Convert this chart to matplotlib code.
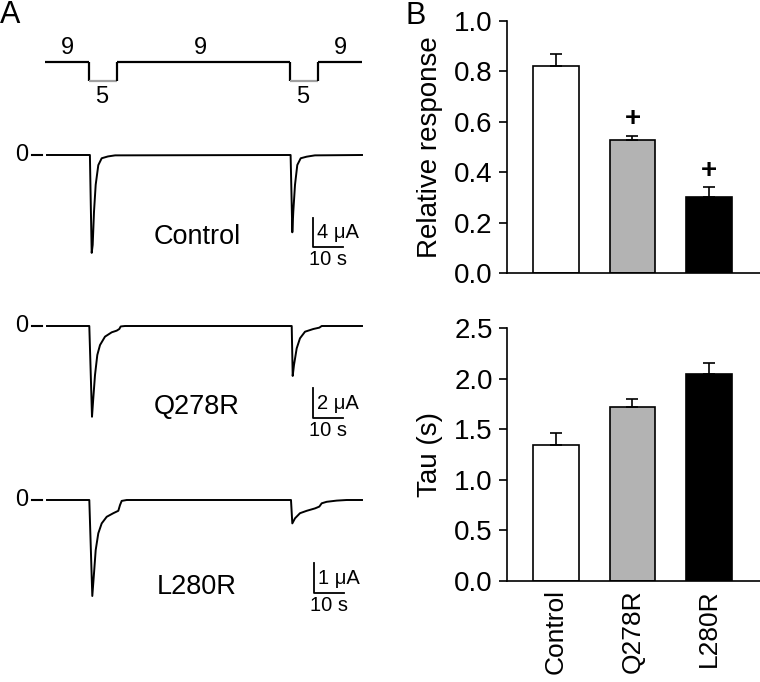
import matplotlib
matplotlib.use("Agg")
import matplotlib.pyplot as plt

plt.rcParams['font.family'] = ['Liberation Sans', 'DejaVu Sans']

W, H = 760, 682

# ---------------- Data ----------------
groups = ["Control", "Q278R", "L280R"]
rel_resp = [0.823, 0.527, 0.303]
rel_resp_err = [0.047, 0.018, 0.038]
tau = [1.345, 1.717, 2.05]
tau_err = [0.115, 0.083, 0.103]
bar_colors = ["white", "#b3b3b3", "black"]
sig_marks = ["", "+", "+"]

# pH protocol (time s, pH)
prot_t = [-0.7, 14.0, 14.0, 23.3, 23.3, 81.0, 81.0, 90.3, 90.3, 105.0]
prot_ph = [9, 9, 5, 5, 9, 9, 5, 5, 9, 9]

# Traces: time (s), current (uA)
ctrl_t = [0, 14.3, 14.6, 14.9, 15.23, 15.67, 16.23, 17.1, 18.23, 20.3, 22.7,
          81.2, 81.5, 81.77, 82.1, 82.67, 83.43, 84.57, 86.57, 89.3, 105]
ctrl_i = [0, 0, -7.0, -13.5, -12.4, -7.8, -4.1, -1.4, -0.45, -0.2, -0.05,
          0, -5.5, -10.66, -7.8, -4.1, -1.38, -0.45, -0.23, -0.05, 0]

q_t = [0, 14.1, 14.55, 15.0, 15.43, 16.0, 16.77, 17.67, 19.33, 21.57, 23.23, 24.1, 24.57, 26,
       81.57, 81.9, 82.33, 83.23, 84.33, 86.0, 88.77, 90.77, 91.57, 105]
q_i = [0, 0, -3.0, -6.05, -4.82, -3.27, -1.93, -1.27, -0.71, -0.42, -0.31, -0.2, -0.03, 0,
       0, -3.33, -2.6, -1.49, -0.82, -0.38, -0.2, -0.11, 0, 0]

l_t = [0, 14.1, 14.6, 15.1, 15.67, 16.23, 17.1, 18.23, 19.9, 22.1, 23.77, 24.33, 24.9, 26.57,
       81.33, 81.77, 82.67, 84.33, 86.57, 89.33, 90.77, 91.57, 93.23, 96.57, 99.9, 105]
l_i = [0, 0, -1.6, -3.2, -2.44, -1.67, -1.11, -0.78, -0.56, -0.44, -0.36, -0.17, -0.03, 0,
       0, -0.78, -0.61, -0.44, -0.36, -0.28, -0.22, -0.11, -0.06, -0.02, 0, 0]

fig = plt.figure(figsize=(W / 100, H / 100), dpi=100)


def axes_px(left, top, right, bottom):
    return fig.add_axes([left / W, 1 - bottom / H, (right - left) / W, (bottom - top) / H])


def t_of(px):
    return (px - 47) / 3.0


XL = (t_of(0), t_of(380))

# ---------------- Panel A: protocol ----------------
axp = axes_px(0, 0, 380, 130)
axp.set_xlim(*XL)
ppx = 4.75  # px per pH unit
axp.set_ylim(9 - (130 - 62) / ppx, 9 + 62 / ppx)
axp.axis("off")
for k in range(len(prot_t) - 1):
    x0, x1 = prot_t[k], prot_t[k + 1]
    y0, y1 = prot_ph[k], prot_ph[k + 1]
    col = "#a0a0a0" if (y0 == 5 and y1 == 5) else "black"
    axp.plot([x0, x1], [y0, y1], color=col, lw=1.6, solid_capstyle="butt")
for px in [67, 200, 340]:
    axp.text(t_of(px), 9 + 14 / ppx, "9", fontsize=17, ha="center", va="center")
for px in [102, 303]:
    axp.text(t_of(px), 9 - 35 / ppx, "5", fontsize=17, ha="center", va="center")
axp.text(t_of(10), 9 + (62 - 15) / ppx, "A", fontsize=22, ha="center", va="center")

# ---------------- Panel A: traces ----------------
trace_specs = [
    (ctrl_t, ctrl_i, 130, 300, 155, 7.25, "Control", 237, 4, 313, 247),
    (q_t, q_i, 300, 450, 326, 15.0, "Q278R", 407, 2, 313, 418.3),
    (l_t, l_i, 450, 640, 500, 30.0, "L280R", 587, 1, 314, 593.3),
]
for (tt, ii, top, bot, base, ppu, name, name_y, sc, sbx, sby) in trace_specs:
    ax = axes_px(0, top, 380, bot)
    ax.set_xlim(*XL)
    ax.set_ylim(-(bot - base) / ppu, (base - top) / ppu)
    ax.axis("off")
    ax.plot(tt, ii, color="black", lw=1.4)
    # zero marker
    ax.plot([t_of(32), t_of(42)], [0, 0], color="black", lw=1.5)
    ax.text(t_of(22), 0, "0", fontsize=17, ha="center", va="center")
    # name
    ax.text(t_of(197), -(name_y - base) / ppu, name, fontsize=19.5, ha="center", va="center")
    # scale bar
    yb = -(sby - base) / ppu
    ax.plot([t_of(sbx), t_of(sbx), t_of(sbx) + 10], [yb + sc, yb, yb], color="black", lw=1.3)
    ax.text(t_of(sbx + 4), yb + sc / 2, f"{sc} \u03bcA", fontsize=14.5, ha="left", va="center")
    ax.text(t_of(sbx + 15), yb - 12 / ppu, "10 s", fontsize=14.5, ha="center", va="center")

# ---------------- Panel B ----------------
xpos = list(range(len(groups)))
xlim_b = (-0.644, 2.667)


def bar_panel(ax, vals, errs, ymax, ticks, ylabel):
    ax.bar(xpos, vals, width=0.6, color=bar_colors, edgecolor="black", linewidth=1.2, zorder=2)
    ax.errorbar(xpos, vals, yerr=[[0] * len(vals), errs], fmt="none", ecolor="black",
                elinewidth=1.2, capsize=4.5, capthick=1.2, zorder=3)
    ax.set_xlim(*xlim_b)
    ax.set_ylim(0, ymax)
    ax.set_yticks(ticks)
    ax.set_yticklabels([f"{t:.1f}" for t in ticks], fontsize=20)
    ax.spines["top"].set_visible(False)
    ax.spines["right"].set_visible(False)
    for s in ["left", "bottom"]:
        ax.spines[s].set_linewidth(1.2)
    ax.tick_params(axis="y", direction="out", length=6, width=1.2, pad=4)
    ax.set_ylabel(ylabel, fontsize=20, labelpad=8)


axb1 = axes_px(506.7, 21, 760, 273)
bar_panel(axb1, rel_resp, rel_resp_err, 1.0, [0.0, 0.2, 0.4, 0.6, 0.8, 1.0], "Relative response")
axb1.set_xticks([])
for x, v, e, m in zip(xpos, rel_resp, rel_resp_err, sig_marks):
    if m:
        axb1.text(x, v + e + 0.065, m, fontsize=20, fontweight="bold", ha="center", va="center")

axb2 = axes_px(506.7, 328.3, 760, 580.7)
bar_panel(axb2, tau, tau_err, 2.5, [0.0, 0.5, 1.0, 1.5, 2.0, 2.5], "Tau (s)")
axb2.set_xticks(xpos)
axb2.set_xticklabels(groups, rotation=90, fontsize=19)
axb2.tick_params(axis="x", length=0, pad=6)

fig.text(416 / W, 1 - 16 / H, "B", fontsize=22, ha="center", va="center")

fig.savefig("out.png", dpi=100)
